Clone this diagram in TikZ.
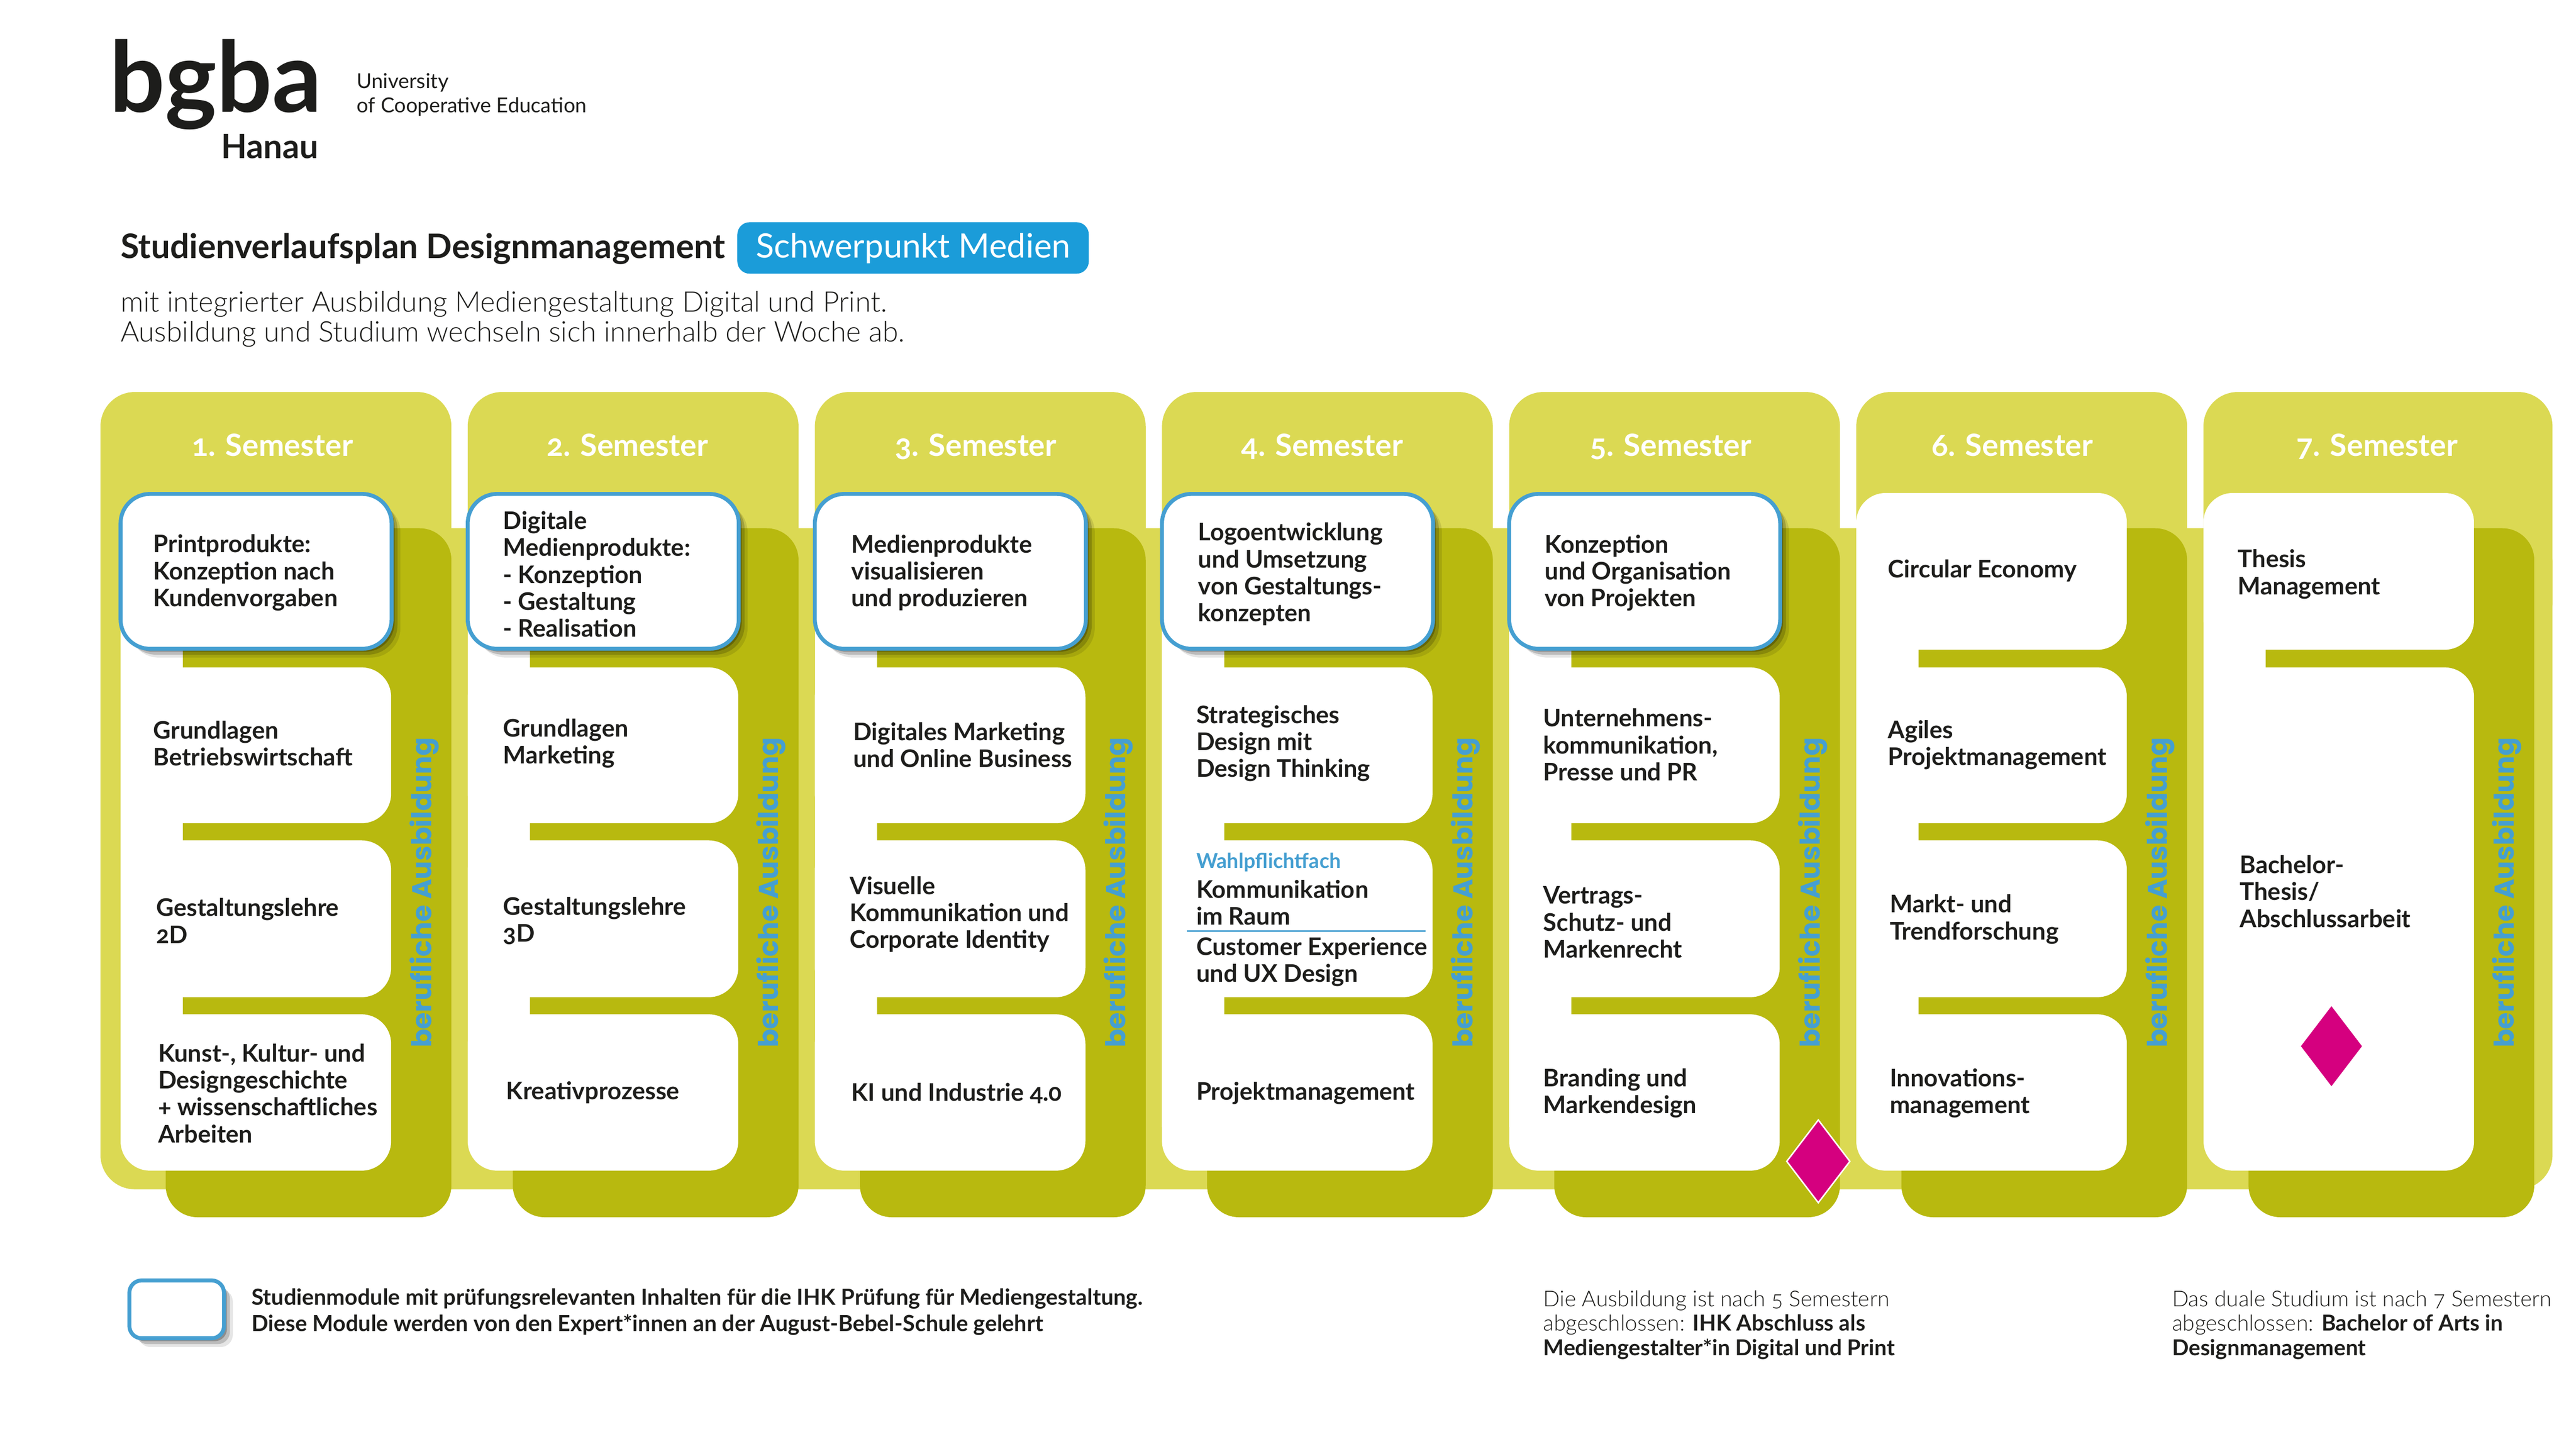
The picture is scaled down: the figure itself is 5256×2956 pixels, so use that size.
\documentclass[tikz,border=0pt]{standalone}
\usepackage{fontspec}
\setmainfont{Lato}[Numbers=OldStyle]
\newfontfamily\lightfont{Lato Light}[Numbers=OldStyle]
\newfontfamily\widefont{Poppins}
\usetikzlibrary{shapes.geometric,shadows}
\definecolor{panellight}{HTML}{DBD953}
\definecolor{paneldark}{HTML}{B8B90F}
\definecolor{boxblue}{HTML}{459FD1}
\definecolor{pillblue}{HTML}{1B9CD9}
\definecolor{markpink}{HTML}{D5007F}
\definecolor{textblack}{HTML}{1D1D1B}

\begin{document}
\begin{tikzpicture}[x=0.2pt,y=-0.2pt,text=textblack,
    lightpanel/.style={fill=panellight,rounded corners=14pt},
    darkpanel/.style={fill=paneldark,rounded corners=13pt},
    finger/.style={fill=paneldark,rounded corners=2.5pt},
    softshadow/.style={
      drop shadow={shadow xshift=3.6pt,shadow yshift=-3.6pt,fill=black,opacity=.1},
      drop shadow={shadow xshift=2.4pt,shadow yshift=-2.4pt,fill=black,opacity=.18},
      drop shadow={shadow xshift=1.2pt,shadow yshift=-1.2pt,fill=black,opacity=.25}},
    plainbox/.style={fill=white,rounded corners=12pt},
    examboxframe/.style={softshadow,fill=white,draw=boxblue,line width=1.6pt,rounded corners=12pt},
    modtext/.style={anchor=west,inner sep=0pt,align=left,yshift=-0.4pt,font=\fontsize{9.9}{11}\selectfont\bfseries},
    sidetext/.style={anchor=base west,rotate=90,inner sep=0pt,text=boxblue,font=\fontsize{11.1}{12}\selectfont\widefont\bfseries},
    headtext/.style={anchor=base,inner sep=0pt,text=white,font=\fontsize{12.5}{13}\selectfont\bfseries},
    finishmark/.style={shape=diamond,fill=markpink,draw=white,line width=0.6pt,inner sep=0pt,minimum width=26pt,minimum height=34pt},
    notetext/.style={anchor=west,inner sep=0pt,align=left,font=\fontsize{8.95}{10}\selectfont\lightfont}]
  \useasboundingbox (0,0) rectangle (5256,2956);

  % logo and title
  \node[anchor=base west,inner sep=0pt,font=\fontsize{40}{40}\selectfont\bfseries] (logo) at (222,229) {bgba};
  \node[anchor=base east,inner sep=0pt,font=\fontsize{13.7}{14}\selectfont\bfseries] (hanau) at (651,323) {Hanau};
  \node[anchor=base west,inner sep=0pt,font=\fontsize{8.4}{10}\selectfont] (uni) at (727,180) {University};
  \node[anchor=base west,inner sep=0pt,font=\fontsize{8.4}{10}\selectfont] (coop) at (727,230) {of Cooperative Education};
  \node[anchor=base west,inner sep=0pt,font=\fontsize{13.8}{14}\selectfont\bfseries] (title) at (245,527) {Studienverlaufsplan Designmanagement};
  \node[fill=pillblue,rounded corners=5pt,minimum width=143.4pt,minimum height=21pt,inner sep=0pt,text=white,text height=10.6pt,text depth=2.4pt,font=\fontsize{13.7}{14}\selectfont] (pill) at (1863,506) {Schwerpunkt Medien};
  \node[anchor=base west,inner sep=0pt,font=\fontsize{11.6}{12}\selectfont\lightfont] (sub1) at (245,636) {mit integrierter Ausbildung Mediengestaltung Digital und Print.};
  \node[anchor=base west,inner sep=0pt,font=\fontsize{11.6}{12}\selectfont\lightfont] (sub2) at (245,698) {Ausbildung und Studium wechseln sich innerhalb der Woche ab.};

  % panels
  \fill[lightpanel] (205,1078) rectangle (5208,2427);
  \foreach \k in {1,...,7}{
    \pgfmathsetmacro{\mx}{246+708.3*(\k-1)}
    \ifnum\k=1 \fill[lightpanel] (205,800) rectangle (\mx+675,1300); \fi
    \ifnum\k>1 \ifnum\k<7 \fill[lightpanel] (\mx,800) rectangle (\mx+675,1300); \fi \fi
    \ifnum\k=7 \fill[lightpanel] (\mx,800) rectangle (5208,1300); \fi
    \fill[darkpanel] (\mx+92,1078) rectangle (\mx+675,2484);
    \fill[white] (\mx,1200) rectangle (\mx+300,2300);
    \fill[finger] (\mx+127,1300) rectangle (\mx+500,1375);
  }
  \foreach \k in {1,...,6}{
    \pgfmathsetmacro{\mx}{246+708.3*(\k-1)}
    \foreach \t/\b in {1665/1730, 2020/2085}{
      \fill[finger] (\mx+127,\t) rectangle (\mx+500,\b);
    }
    \foreach \t/\b in {1362/1680, 1715/2035, 2070/2389}{
      \fill[plainbox] (\mx,\t) rectangle (\mx+552,\b);
    }
  }
  \fill[plainbox] (4496,1362) rectangle (5048,2389);
  \foreach \k in {6,7}{
    \pgfmathsetmacro{\mx}{246+708.3*(\k-1)}
    \fill[plainbox] (\mx,1006) rectangle (\mx+552,1326);
  }
  \foreach \k in {1,...,5}{
    \pgfmathsetmacro{\mx}{246+708.3*(\k-1)}
    \draw[examboxframe] (\mx,1008) rectangle (\mx+553,1324);
  }

  % semester heads and side labels
  \foreach \k/\x in {1/556, 2/1280, 3/1991, 4/2698, 5/3409, 6/4106, 7/4850}{
    \node[headtext] (head\k) at (\x,931) {\k. Semester};
  }
  \foreach \k in {1,...,7}{
    \pgfmathsetmacro{\mx}{246+708.3*(\k-1)}
    \node[sidetext] (side\k) at (\mx+634,2139) {berufliche Ausbildung};
  }

  % modules
  \foreach \n/\x/\y/\txt in {
    a1/312/1167/{Printprodukte:\\Konzeption nach\\Kundenvorgaben},
    a2/312/1515/{Grundlagen\\Betriebswirtschaft},
    a3/318/1877/{Gestaltungslehre\\2D},
    a4/322/2229/{Kunst-, Kultur- und\\Designgeschichte\\+ wissenschaftliches\\Arbeiten},
    b1/1026/1170/{Digitale\\Medienprodukte:\\- Konzeption\\- Gestaltung\\- Realisation},
    b2/1026/1515/{Grundlagen\\Marketing},
    b3/1026/1877/{Gestaltungslehre\\3D},
    b4/1032/2228/{Kreativprozesse},
    c1/1736/1167/{Medienprodukte\\visualisieren\\und produzieren},
    c2/1740/1518/{Digitales Marketing\\und Online Business},
    c3/1733/1864/{Visuelle\\Kommunikation und\\Corporate Identity},
    c4/1736/2229/{KI und Industrie 4.0},
    d1/2444/1170/{Logoentwicklung\\und Umsetzung\\von Gestaltungs-\\konzepten},
    d2/2440/1515/{Strategisches\\Design mit\\Design Thinking},
    d3/2440/1840/{Kommunikation\\im Raum},
    d5/2440/1961/{Customer Experience\\und UX Design},
    d4/2440/2229/{Projektmanagement},
    e1/3151/1167/{Konzeption\\und Organisation\\von Projekten},
    e2/3148/1518/{Unternehmens-\\kommunikation,\\Presse und PR},
    e3/3148/1880/{Vertrags-\\Schutz- und\\Markenrecht},
    e4/3148/2229/{Branding und\\Markendesign},
    f1/3851/1163/{Circular Economy},
    f2/3851/1518/{Agiles\\Projektmanagement},
    f3/3855/1874/{Markt- und\\Trendforschung},
    f4/3855/2229/{Innovations-\\management},
    g1/4565/1170/{Thesis\\Management},
    g2/4569/1817/{Bachelor-\\Thesis/\\Abschlussarbeit}}{
    \node[modtext] (\n) at (\x,\y) {\txt};
  }
  \node[anchor=west,inner sep=0pt,text=boxblue,font=\fontsize{8.4}{9}\selectfont\bfseries] (wahl) at (2440,1760) {Wahlpflichtfach};
  \coordinate (ruleleft) at (2422,1900);
  \coordinate (ruleright) at (2909,1900);
  \draw[boxblue,line width=0.8pt] (ruleleft) -- (ruleright);

  \node[finishmark] (mark5) at (3710,2370) {};
  \node[finishmark] (mark7) at (4757,2135) {};

  % legend and notes
  \draw[softshadow,fill=white,draw=boxblue,line width=1.6pt,rounded corners=5pt] (264,2613) rectangle (457,2731);
  \node[anchor=west,inner sep=0pt,align=left,font=\fontsize{9.05}{10.8}\selectfont\bfseries] (legend) at (512,2677)
    {Studienmodule mit prüfungsrelevanten Inhalten für die IHK Prüfung für Mediengestaltung.\\
     Diese Module werden von den Expert*innen an der August-Bebel-Schule gelehrt};
  \node[notetext] (note5) at (3148,2704) {Die Ausbildung ist nach 5 Semestern\\abgeschlossen: {\normalfont\bfseries IHK Abschluss als}\\{\normalfont\bfseries Mediengestalter*in Digital und Print}};
  \node[notetext] (note7) at (4431,2704) {Das duale Studium ist nach 7 Semestern\\abgeschlossen: {\normalfont\bfseries Bachelor of Arts in}\\{\normalfont\bfseries Designmanagement}};
\end{tikzpicture}
\end{document}
